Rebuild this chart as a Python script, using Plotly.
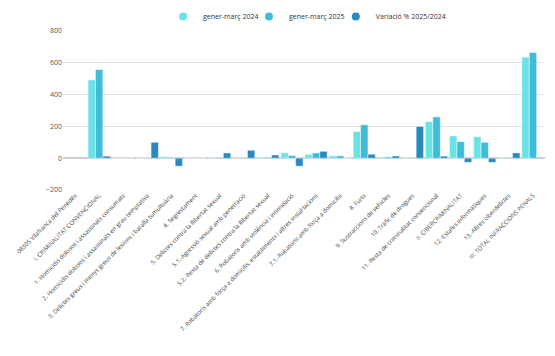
import plotly.graph_objects as go

categories = [
    "08305 Vilafranca del Penedès",
    "I. CRIMINALITAT CONVENCIONAL",
    "1. Homicidis dolosos i assassinats consumats",
    "2. Homicidis dolosos i assassinats en grau temptativa",
    "3. Delictes greus i menys greus de lesions i baralla tumultuària",
    "4. Segrestament",
    "5. Delictes contra la llibertat sexual",
    "5.1.-Agressió sexual amb penetració",
    "5.2.-Resta de delictes contra la llibertat sexual",
    "6. Robatoris amb violència i intimidació",
    "7. Robatoris amb força a domicilis, establiments i altres instal·lacions",
    "7.1.-Robatoris amb força a domicilis",
    "8. Furts",
    "9. Sustraccions de vehicles",
    "10. Tràfic de drogues",
    "11. Resta de criminalitat convencional",
    "II. CIBERCRIMINALITAT",
    "12.-Estafes informàtiques",
    "13.-Altres ciberdelictes",
    "III. TOTAL INFRACCIONS PENALS",
]

gener_marc_2024 = [None, 492, 0, 1, 10, 0, 3, 2, 5, 34, 23, 15, 168, 7, 1, 230, 140, 135, 3, 635]
gener_marc_2025 = [None, 557, 0, 2, 5, 0, 4, 3, 6, 17, 33, 15, 210, 8, 3, 260, 104, 100, 4, 665]
variacio_pct = [None, 13, 0, 100, -50, 0, 33, 50, 20, -50, 43, 0, 25, 14, 200, 13, -26, -26, 33, 5]

series_names = ["gener-març 2024", "gener-març 2025", "Variació % 2025/2024"]
series_colors = ["#6ae3e8", "#40bbd8", "#2a8abf"]
legend_ids = ["legend", "legend2", "legend3"]
legend_x = [0.2075, 0.3859, 0.566]

fig = go.Figure()
for name, vals, col in zip(series_names, [gener_marc_2024, gener_marc_2025, variacio_pct], series_colors):
    fig.add_trace(go.Bar(
        x=categories, y=vals, name=name, showlegend=False, legendgroup=name,
        marker=dict(color=col, line=dict(color="rgba(255,255,255,0.45)", width=1)),
    ))
# legend entries with circle symbols, one small legend each for compact spacing
for name, col, lid in zip(series_names, series_colors, legend_ids):
    fig.add_trace(go.Scatter(
        x=[None], y=[None], mode="markers", name=name, legendgroup=name, legend=lid,
        marker=dict(color=col, size=8, symbol="circle"), hoverinfo="skip",
    ))

legend_style = dict(orientation="h", xanchor="left", y=1.0, yanchor="bottom",
                    font=dict(size=7, color="#333"), itemwidth=30, bgcolor="rgba(0,0,0,0)")
fig.update_layout(
    width=555, height=356,
    margin=dict(l=63, r=10, t=31, b=166, autoexpand=False),
    paper_bgcolor="white", plot_bgcolor="white",
    barmode="group", bargap=0.08, bargroupgap=0,
    font=dict(family="Open Sans", color="#333"),
    legend=dict(x=legend_x[0], **legend_style),
    legend2=dict(x=legend_x[1], **legend_style),
    legend3=dict(x=legend_x[2], **legend_style),
    showlegend=True,
)
fig.update_xaxes(
    tickangle=-45, tickfont=dict(size=6, color="#444"), automargin=False,
    showgrid=False, showline=False, ticks="",
)
fig.update_yaxes(
    range=[-200, 800], tickvals=[-200, 0, 200, 400, 600, 800],
    tickfont=dict(size=7, color="#555"), automargin=False,
    showgrid=True, gridcolor="#e3e3e3", gridwidth=1,
    zeroline=True, zerolinecolor="#cccccc", zerolinewidth=1.5,
)

fig.write_html("out.html", config={"displayModeBar": False},
               post_script="document.body.style.margin='0';")
